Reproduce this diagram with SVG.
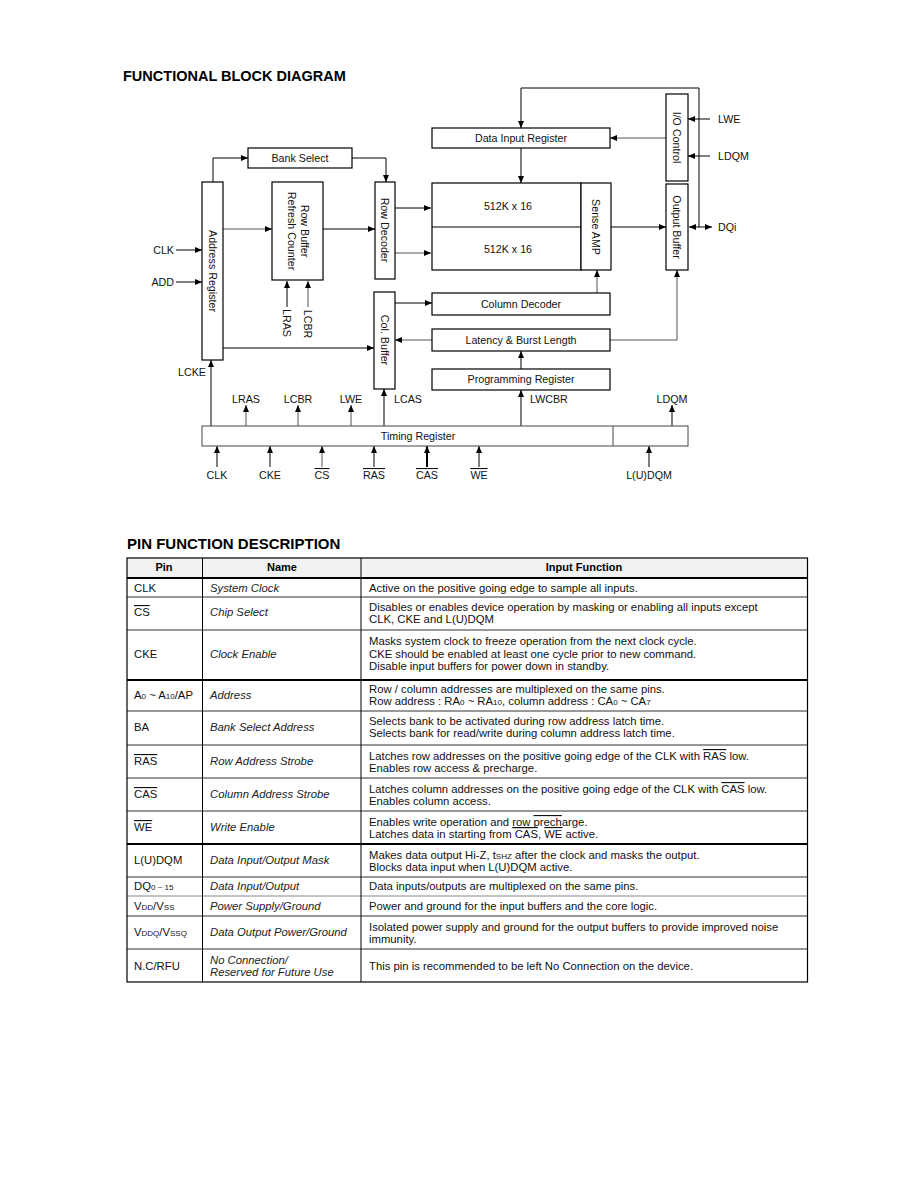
<svg xmlns="http://www.w3.org/2000/svg" width="918" height="1188" viewBox="0 0 918 1188">
<style>
.t{font-family:"Liberation Sans",Arial,sans-serif;font-size:10.7px;fill:#111}
.c{text-anchor:middle}
.e{text-anchor:end}
.tb{font-family:"Liberation Sans",Arial,sans-serif;font-size:11.3px;fill:#111}
.it{font-style:italic;fill:#222}
.hd{font-family:"Liberation Sans",Arial,sans-serif;font-weight:bold;fill:#000}
.ov{text-decoration:overline}
.sub{font-size:8px}
.box{fill:#fff;stroke:#000;stroke-width:1.2}
.ln{fill:none;stroke:#000;stroke-width:1}
.gr{stroke:#555}
.tl{stroke:#000;stroke-width:1}
</style>
<defs>
<marker id="ah" viewBox="0 0 7 6" refX="7" refY="3" markerWidth="7" markerHeight="6" markerUnits="userSpaceOnUse" orient="auto">
<path d="M0,0 L7,3 L0,6 z" fill="#000"/>
</marker>
<marker id="as" viewBox="0 0 7 6" refX="0" refY="3" markerWidth="7" markerHeight="6" markerUnits="userSpaceOnUse" orient="auto">
<path d="M7,0 L0,3 L7,6 z" fill="#000"/>
</marker>
</defs>
<rect width="918" height="1188" fill="#fff"/>

<text class="hd" x="123" y="81" font-size="14.5">FUNCTIONAL BLOCK DIAGRAM</text>

<g id="connectors" class="ln">
<path d="M213,182 V158 H248" marker-end="url(#ah)"/>
<path d="M352,158 H386 V182" marker-end="url(#ah)"/>
<path class="gr" d="M223,229 H272" marker-end="url(#ah)"/>
<path d="M323,229 H375" marker-end="url(#ah)"/>
<path d="M395,208 H431" marker-end="url(#ah)"/>
<path class="gr" d="M395,253 H431" marker-end="url(#ah)"/>
<path d="M176,250 H202" marker-end="url(#ah)"/>
<path d="M176,282 H202" marker-end="url(#ah)"/>
<path d="M287,307 V281" marker-end="url(#ah)"/>
<path class="gr" d="M308,307 V281" marker-end="url(#ah)"/>
<path d="M699,227 V88 H521 V128" marker-end="url(#ah)"/>
<path class="gr" d="M666,138 H610" marker-end="url(#ah)"/>
<path d="M521,148 V183" marker-end="url(#ah)"/>
<path d="M710,119 H688" marker-end="url(#ah)"/>
<path d="M710,156 H688" marker-end="url(#ah)"/>
<path d="M611,227 H666" marker-end="url(#ah)"/>
<path d="M689,227 H712" marker-start="url(#as)" marker-end="url(#ah)"/>
<path class="gr" d="M597,293 V270" marker-end="url(#ah)"/>
<path class="gr" d="M610,340 H677 V270" marker-end="url(#ah)"/>
<path d="M395,303 H432" marker-end="url(#ah)"/>
<path class="gr" d="M432,340 H395" marker-end="url(#ah)"/>
<path d="M223,348 H374" marker-end="url(#ah)"/>
<path d="M521,369 V351" marker-end="url(#ah)"/>
<path d="M521,426 V390" marker-end="url(#ah)"/>
<path d="M211,426 V360" marker-end="url(#ah)"/>
<path class="gr" d="M246,426 V405" marker-end="url(#ah)"/>
<path class="gr" d="M298,426 V405" marker-end="url(#ah)"/>
<path class="gr" d="M351,426 V405" marker-end="url(#ah)"/>
<path d="M384,426 V389" marker-end="url(#ah)"/>
<path d="M672,426 V405" marker-end="url(#ah)"/>
<path d="M217,467 V446" marker-end="url(#ah)"/>
<path d="M270,467 V446" marker-end="url(#ah)"/>
<path class="gr" d="M322,467 V446" marker-end="url(#ah)"/>
<path d="M374,467 V446" marker-end="url(#ah)"/>
<path d="M427,467 V446" stroke-width="2" marker-end="url(#ah)"/>
<path d="M479,467 V446" marker-end="url(#ah)"/>
<path d="M649,467 V446" marker-end="url(#ah)"/>
</g>

<g id="bank-select"><rect class="box" x="248" y="148" width="104" height="20" stroke-width="1"/><text class="t c" x="300" y="162">Bank Select</text></g>
<g id="address-register"><rect class="box" x="202" y="182" width="21" height="178" stroke-width="1"/><text class="t c" transform="translate(212.5,271) rotate(90)" y="4">Address Register</text></g>
<g id="row-buffer"><rect class="box" x="272" y="182" width="51" height="98" stroke-width="1.5"/><text class="t c" transform="translate(297.5,231) rotate(90)" y="-3.5">Row Buffer</text><text class="t c" transform="translate(297.5,231) rotate(90)" y="9.5">Refresh Counter</text></g>
<g id="row-decoder"><rect class="box" x="375" y="182" width="20" height="97" stroke-width="1.5"/><text class="t c" transform="translate(385,230) rotate(90)" y="4">Row Decoder</text></g>
<g id="col-buffer"><rect class="box" x="374" y="292" width="21" height="97" stroke-width="1.5"/><text class="t c" transform="translate(384.5,340) rotate(90)" y="4">Col. Buffer</text></g>
<g id="data-input-register"><rect class="box" x="432" y="128" width="178" height="20"/><text class="t c" x="521" y="142">Data Input Register</text></g>
<g id="memory-array"><rect class="box" x="432" y="183" width="149" height="87"/><line class="tl" x1="432" y1="227" x2="581" y2="227"/><text class="t c" x="508" y="210">512K x 16</text><text class="t c" x="508" y="253">512K x 16</text></g>
<g id="sense-amp"><rect class="box" x="581" y="183" width="30" height="87"/><text class="t c" transform="translate(596,227) rotate(90)" y="4">Sense AMP</text></g>
<g id="io-control"><rect class="box" x="666" y="94" width="22" height="87" stroke-width="1.5"/><text class="t c" transform="translate(677,137.5) rotate(90)" y="4">I/O Control</text></g>
<g id="output-buffer"><rect class="box" x="666" y="184" width="22" height="86" stroke-width="1.5"/><text class="t c" transform="translate(677,227) rotate(90)" y="4">Output Buffer</text></g>
<g id="column-decoder"><rect class="box" x="432" y="293" width="178" height="22"/><text class="t c" x="521" y="308">Column Decoder</text></g>
<g id="latency-burst"><rect class="box" x="432" y="329" width="178" height="22"/><text class="t c" x="521" y="344">Latency &amp; Burst Length</text></g>
<g id="programming-register"><rect class="box" x="432" y="369" width="178" height="21"/><text class="t c" x="521" y="383">Programming Register</text></g>
<g id="timing-register"><rect x="202" y="426" width="486" height="20" fill="#fff" stroke="#444" stroke-width="1"/><line x1="613" y1="426" x2="613" y2="446" stroke="#444"/><text class="t c" x="418" y="440">Timing Register</text></g>

<g id="signal-labels">
<text class="t e" x="174" y="254">CLK</text>
<text class="t e" x="174" y="286">ADD</text>
<text class="t c" transform="translate(287,323) rotate(90)" y="4">LRAS</text>
<text class="t c" transform="translate(308,324) rotate(90)" y="4">LCBR</text>
<text class="t" x="718" y="123">LWE</text>
<text class="t" x="718" y="160">LDQM</text>
<text class="t" x="718" y="231">DQi</text>
<text class="t" x="178" y="376">LCKE</text>
<text class="t c" x="246" y="403">LRAS</text>
<text class="t c" x="298" y="403">LCBR</text>
<text class="t c" x="351" y="403">LWE</text>
<text class="t" x="394" y="403">LCAS</text>
<text class="t" x="530" y="403">LWCBR</text>
<text class="t c" x="672" y="403">LDQM</text>
<text class="t c" x="217" y="479">CLK</text>
<text class="t c" x="270" y="479">CKE</text>
<text class="t c ov" x="322" y="479">CS</text>
<text class="t c ov" x="374" y="479">RAS</text>
<text class="t c ov" x="427" y="479">CAS</text>
<text class="t c ov" x="479" y="479">WE</text>
<text class="t c" x="649" y="479">L(U)DQM</text>
</g>

<text class="hd" x="127" y="549" font-size="15">PIN FUNCTION DESCRIPTION</text>

<g id="pin-table">
<rect x="127" y="558" width="680.5" height="20" fill="#f2f2f2"/>
<g stroke="#333" stroke-width="1">
<line x1="127" y1="597" x2="807.5" y2="597"/>
<line x1="127" y1="630" x2="807.5" y2="630"/>
<line x1="127" y1="711" x2="807.5" y2="711"/>
<line x1="127" y1="745" x2="807.5" y2="745"/>
<line x1="127" y1="778" x2="807.5" y2="778"/>
<line x1="127" y1="811" x2="807.5" y2="811"/>
<line x1="127" y1="877" x2="807.5" y2="877"/>
<line x1="127" y1="896" x2="807.5" y2="896" stroke="#888"/>
<line x1="127" y1="916" x2="807.5" y2="916"/>
<line x1="127" y1="949" x2="807.5" y2="949"/>
</g>
<g stroke="#000" stroke-width="2">
<line x1="127" y1="578" x2="807.5" y2="578"/>
<line x1="127" y1="680" x2="807.5" y2="680"/>
<line x1="127" y1="844" x2="807.5" y2="844"/>
</g>
<g stroke="#000" stroke-width="1">
<line x1="202.5" y1="558" x2="202.5" y2="982"/>
<line x1="361" y1="558" x2="361" y2="982"/>
</g>
<rect x="127" y="558" width="680.5" height="424" fill="none" stroke="#000" stroke-width="1.2"/>

<g class="hd" font-size="11" text-anchor="middle">
<text x="164" y="571">Pin</text>
<text x="282" y="571">Name</text>
<text x="584" y="571">Input Function</text>
</g>

<g id="row-clk"><text class="tb" x="134" y="592">CLK</text><text class="tb it" x="210" y="592">System Clock</text><text class="tb" x="369" y="592">Active on the positive going edge to sample all inputs.</text></g>
<g id="row-cs"><text class="tb ov" x="134" y="616">CS</text><text class="tb it" x="210" y="616">Chip Select</text><text class="tb" x="369" y="611">Disables or enables device operation by masking or enabling all inputs except</text><text class="tb" x="369" y="623">CLK, CKE and L(U)DQM</text></g>
<g id="row-cke"><text class="tb" x="134" y="658">CKE</text><text class="tb it" x="210" y="658">Clock Enable</text><text class="tb" x="369" y="645">Masks system clock to freeze operation from the next clock cycle.</text><text class="tb" x="369" y="658">CKE should be enabled at least one cycle prior to new command.</text><text class="tb" x="369" y="670">Disable input buffers for power down in standby.</text></g>
<g id="row-addr"><text class="tb" x="134" y="699">A<tspan class="sub">0</tspan> ~ A<tspan class="sub">10</tspan>/AP</text><text class="tb it" x="210" y="699">Address</text><text class="tb" x="369" y="693">Row / column addresses are multiplexed on the same pins.</text><text class="tb" x="369" y="705">Row address : RA<tspan class="sub">0</tspan> ~ RA<tspan class="sub">10</tspan>, column address : CA<tspan class="sub">0</tspan> ~ CA<tspan class="sub">7</tspan></text></g>
<g id="row-ba"><text class="tb" x="134" y="731">BA</text><text class="tb it" x="210" y="731">Bank Select Address</text><text class="tb" x="369" y="725">Selects bank to be activated during row address latch time.</text><text class="tb" x="369" y="737">Selects bank for read/write during column address latch time.</text></g>
<g id="row-ras"><text class="tb ov" x="134" y="765">RAS</text><text class="tb it" x="210" y="765">Row Address Strobe</text><text class="tb" x="369" y="760">Latches row addresses on the positive going edge of the CLK with <tspan class="ov">RAS</tspan> low.</text><text class="tb" x="369" y="772">Enables row access &amp; precharge.</text></g>
<g id="row-cas"><text class="tb ov" x="134" y="798">CAS</text><text class="tb it" x="210" y="798">Column Address Strobe</text><text class="tb" x="369" y="793">Latches column addresses on the positive going edge of the CLK with <tspan class="ov">CAS</tspan> low.</text><text class="tb" x="369" y="805">Enables column access.</text></g>
<g id="row-we"><text class="tb ov" x="134" y="831">WE</text><text class="tb it" x="210" y="831">Write Enable</text><text class="tb" x="369" y="826">Enables write operation and <tspan text-decoration="underline">row</tspan> <tspan text-decoration="overline">prech</tspan>arge.</text><text class="tb" x="369" y="838">Latches data in starting from <tspan class="ov">CAS</tspan>, <tspan class="ov">WE</tspan> active.</text></g>
<g id="row-dqm"><text class="tb" x="134" y="864">L(U)DQM</text><text class="tb it" x="210" y="864">Data Input/Output Mask</text><text class="tb" x="369" y="859">Makes data output Hi-Z, t<tspan class="sub">SHZ</tspan> after the clock and masks the output.</text><text class="tb" x="369" y="871">Blocks data input when L(U)DQM active.</text></g>
<g id="row-dq"><text class="tb" x="134" y="890">DQ<tspan class="sub">0 ~ 15</tspan></text><text class="tb it" x="210" y="890">Data Input/Output</text><text class="tb" x="369" y="890">Data inputs/outputs are multiplexed on the same pins.</text></g>
<g id="row-vdd"><text class="tb" x="134" y="910">V<tspan class="sub">DD</tspan>/V<tspan class="sub">SS</tspan></text><text class="tb it" x="210" y="910">Power Supply/Ground</text><text class="tb" x="369" y="910">Power and ground for the input buffers and the core logic.</text></g>
<g id="row-vddq"><text class="tb" x="134" y="936">V<tspan class="sub">DDQ</tspan>/V<tspan class="sub">SSQ</tspan></text><text class="tb it" x="210" y="936">Data Output Power/Ground</text><text class="tb" x="369" y="931">Isolated power supply and ground for the output buffers to provide improved noise</text><text class="tb" x="369" y="943">immunity.</text></g>
<g id="row-nc"><text class="tb" x="134" y="970">N.C/RFU</text><text class="tb it" x="210" y="964">No Connection/</text><text class="tb it" x="210" y="976">Reserved for Future Use</text><text class="tb" x="369" y="970">This pin is recommended to be left No Connection on the device.</text></g>
</g>
</svg>
